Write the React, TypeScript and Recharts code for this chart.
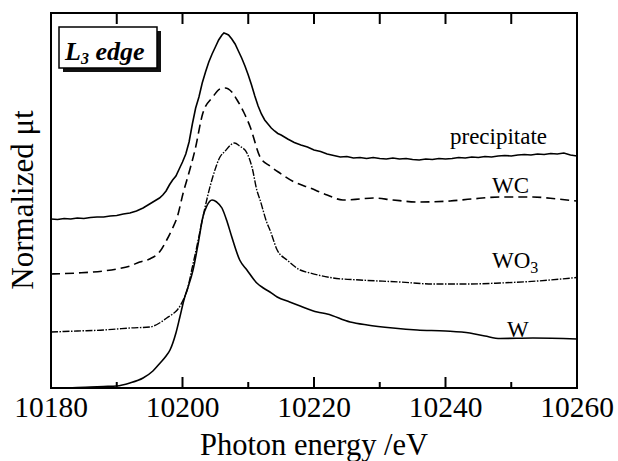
import React from 'react';
import { LineChart, Line, XAxis, YAxis, ReferenceLine, Customized } from 'recharts';

const xTicks = [10180, 10190, 10200, 10210, 10220, 10230, 10240, 10250, 10260];
const xMin = 10180;
const xMax = 10260;
const yMax = 375;

const precipE = [10180, 10181, 10182, 10183, 10184, 10185, 10186, 10187, 10188, 10189, 10190, 10191, 10192, 10193, 10194, 10195, 10196, 10196.5, 10197, 10197.5, 10198, 10198.5, 10199, 10199.5, 10200, 10200.5, 10201, 10201.5, 10202, 10202.5, 10203, 10203.5, 10204, 10204.5, 10205, 10205.5, 10206, 10206.3, 10206.7, 10207, 10207.5, 10208, 10208.5, 10209, 10209.5, 10210, 10210.5, 10211, 10211.5, 10212, 10212.5, 10213, 10213.5, 10214, 10214.5, 10215, 10216, 10217, 10218, 10219, 10220, 10221, 10222, 10223, 10224, 10225, 10226, 10227, 10228, 10229, 10230, 10231, 10232, 10233, 10234, 10235, 10236, 10237, 10238, 10239, 10240, 10241, 10242, 10243, 10244, 10245, 10246, 10247, 10248, 10249, 10250, 10251, 10252, 10253, 10254, 10255, 10256, 10257, 10258, 10259, 10260];
const precipV = [169, 168.5, 169.5, 169, 170, 169.5, 170.5, 171, 171, 172, 172.5, 174, 175, 177, 180, 184, 188, 190, 193, 197, 203, 208, 212, 219, 226, 234, 246, 264, 280, 291, 305, 316, 326, 334, 341, 348, 353, 355, 354, 353, 349, 344, 337, 330, 322, 313, 303, 292, 282, 274, 268, 264, 260, 257, 254.5, 253, 249, 245.5, 243, 241, 238, 236.5, 234, 232.5, 231, 231.5, 230, 230.5, 229.5, 230.5, 229.5, 229, 230, 229, 229.5, 228.5, 228, 229, 228.5, 229.5, 229, 229.5, 230.5, 230, 231, 230.5, 231.5, 231, 232, 232.5, 232, 233, 233.5, 233, 234, 233.5, 234.5, 234, 235, 233, 232];

const wcE = [10180, 10184, 10188, 10190, 10192, 10193.5, 10195, 10196.5, 10197.6, 10198.5, 10199.2, 10200.1, 10201.1, 10201.9, 10203.1, 10204.6, 10205.7, 10206.5, 10207.5, 10208.3, 10209.3, 10210.3, 10211.8, 10213.3, 10214.8, 10217, 10219.4, 10222, 10224.4, 10227, 10229, 10232, 10236, 10240.7, 10244, 10248.3, 10253.3, 10257, 10260];
const wcV = [114, 115, 117, 119, 122, 126, 129, 136, 148, 160, 171, 195, 218, 238, 275, 291, 299, 300, 296, 288, 276, 261, 231, 222, 215, 206, 200, 193, 188, 189, 190, 188, 186, 187, 189, 191, 191, 189, 187];

const wo3E = [10180, 10184, 10188, 10190, 10192, 10195, 10196.5, 10197.6, 10198.5, 10199.2, 10200.1, 10200.8, 10201.4, 10202.2, 10203.1, 10204.6, 10205.7, 10206.5, 10207.3, 10207.9, 10208.7, 10209.8, 10210.6, 10211.3, 10211.8, 10212.85, 10213.3, 10214.4, 10215.9, 10217.9, 10219.4, 10222.9, 10227, 10233, 10238, 10243.3, 10248.3, 10254, 10260];
const wo3V = [56, 57, 58, 59, 60, 61, 65, 70, 74, 78, 88, 100, 118, 142, 171, 211, 231, 237, 243, 245, 242, 235, 220, 198, 188, 165, 158, 138, 128, 118, 115, 110, 108, 106, 104, 104, 105, 107, 110.5];

const wE = [10180, 10184, 10186, 10188, 10190, 10192, 10194, 10195.5, 10196.6, 10197.5, 10198.1, 10199, 10199.6, 10200.3, 10200.8, 10201.6, 10202.4, 10203.1, 10203.7, 10204.5, 10205.2, 10206, 10206.8, 10207.5, 10208.7, 10209.8, 10211.3, 10212.3, 10213.3, 10214.4, 10216.3, 10217.9, 10220.5, 10222, 10225.5, 10228.1, 10232, 10235.7, 10240, 10243.7, 10246, 10248.3, 10253.3, 10260];
const wV = [0, 0.5, 1, 1.5, 2, 5, 10, 17, 25, 32, 38, 55, 71, 90, 100, 118, 145, 171, 182, 188, 186, 180, 166, 151, 128, 118, 105, 100, 96, 91, 86, 82, 76, 74, 66, 63, 60, 58, 57, 55, 52, 49.5, 50, 49];

const rows = (e: number[], v: number[]) => e.map((x, i) => ({ e: x, v: v[i] }));
const precipData = rows(precipE, precipV);
const wcData = rows(wcE, wcV);
const wo3Data = rows(wo3E, wo3V);
const wData = rows(wE, wV);

const FONT = '"Liberation Serif", "Times New Roman", serif';

const AxisTick = (props: any) => {
  const { x, y, payload } = props;
  const v = payload.value;
  if (v % 20 !== 0) return <g />;
  return (
    <text x={x} y={y + 29} textAnchor="middle" fontSize={29.5} fontFamily={FONT} fill="#000">
      {v}
    </text>
  );
};

const Annotations = () => (
  <g fontFamily={FONT} fill="#000">
    <rect x={51} y={13} width={526} height={375} fill="none" stroke="#000" strokeWidth={2} />
    <text
      x={33}
      y={200}
      transform="rotate(-90, 33, 200)"
      textAnchor="middle"
      fontSize={31}
    >
      Normalized μt
    </text>
    <text x={314} y={455} textAnchor="middle" fontSize={30.5}>
      Photon energy /eV
    </text>
    <rect x={63} y={31} width={98} height={41} fill="#111" />
    <rect x={59} y={27} width={98} height={41} fill="#fff" stroke="#000" strokeWidth={1.5} />
    <text x={65} y={60} fontSize={26} fontWeight="bold" fontStyle="italic">
      L<tspan fontSize={16} dy={4}>3</tspan>
      <tspan dy={-4}> edge</tspan>
    </text>
    <text x={450} y={144} fontSize={23}>precipitate</text>
    <text x={492} y={193} fontSize={23}>WC</text>
    <text x={492} y={268} fontSize={23}>
      WO<tspan fontSize={16} dy={5}>3</tspan>
    </text>
    <text x={507} y={337} fontSize={23}>W</text>
  </g>
);

export default function App() {
  return (
    <div style={{ position: 'absolute', left: 0, top: 0, background: '#fff' }}>
      <LineChart width={618} height={461} margin={{ top: 13, right: 41, bottom: 0, left: 51 }}>
        <XAxis
          dataKey="e"
          type="number"
          domain={[xMin, xMax]}
          ticks={xTicks}
          interval={0}
          height={73}
          tickSize={0}
          tickMargin={0}
          tickLine={false}
          tick={<AxisTick />}
          axisLine={false}
          allowDataOverflow
        />
        <YAxis type="number" domain={[0, yMax]} hide allowDataOverflow />
        {xTicks.map((t) => (
          <ReferenceLine
            key={'b' + t}
            segment={[{ x: t, y: 0 }, { x: t, y: t % 20 === 0 ? 11 : 6 }]}
            stroke="#000"
            strokeWidth={2}
            ifOverflow="visible"
          />
        ))}
        {xTicks.map((t) => (
          <ReferenceLine
            key={'t' + t}
            segment={[{ x: t, y: yMax }, { x: t, y: yMax - 11 }]}
            stroke="#000"
            strokeWidth={2}
            ifOverflow="visible"
          />
        ))}
        <Line data={wData} dataKey="v" type="monotone" stroke="#000" strokeWidth={1.6} dot={false} isAnimationActive={false} />
        <Line data={wo3Data} dataKey="v" type="monotone" stroke="#000" strokeWidth={1.4} strokeDasharray="7 1.5 1.5 1.5" dot={false} isAnimationActive={false} />
        <Line data={wcData} dataKey="v" type="monotone" stroke="#000" strokeWidth={1.6} strokeDasharray="9 5" dot={false} isAnimationActive={false} />
        <Line data={precipData} dataKey="v" type="linear" stroke="#000" strokeWidth={1.6} dot={false} isAnimationActive={false} />
        <Customized component={Annotations} />
      </LineChart>
    </div>
  );
}
